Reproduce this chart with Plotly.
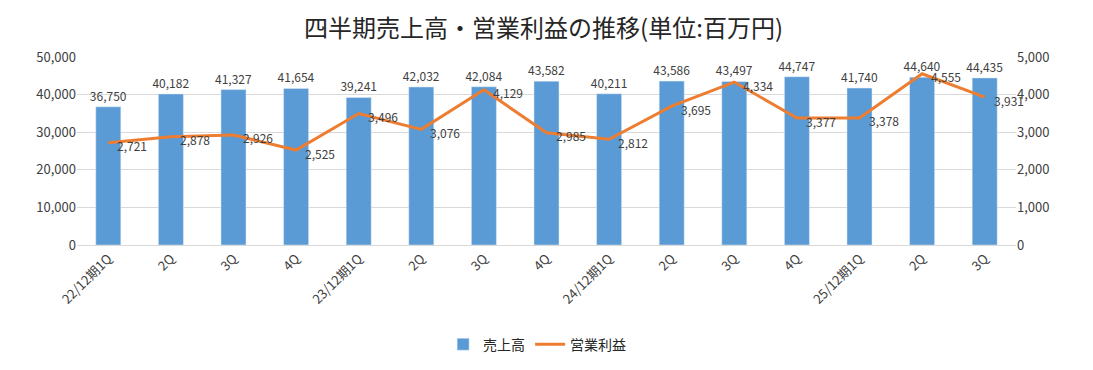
import plotly.graph_objects as go

categories = ["22/12期1Q", "2Q", "3Q", "4Q", "23/12期1Q", "2Q", "3Q", "4Q",
              "24/12期1Q", "2Q", "3Q", "4Q", "25/12期1Q", "2Q", "3Q"]
sales = [36750, 40182, 41327, 41654, 39241, 42032, 42084, 43582,
         40211, 43586, 43497, 44747, 41740, 44640, 44435]
op_profit = [2721, 2878, 2926, 2525, 3496, 3076, 4129, 2985,
             2812, 3695, 4334, 3377, 3378, 4555, 3931]

x = list(range(len(categories)))
FONT = "Noto Sans CJK JP"

fig = go.Figure()
fig.add_trace(go.Bar(
    x=x, y=sales, name="売上高", marker=dict(color="#5B9BD5"),
    text=[f"{v:,}" for v in sales], textposition="outside", cliponaxis=False,
    constraintext="none", textangle=0,
    textfont=dict(family=FONT, size=12, color="#404040"),
))
fig.add_trace(go.Scatter(
    x=x, y=op_profit, name="営業利益", yaxis="y2", mode="lines",
    line=dict(color="#ED7D31", width=3), cliponaxis=False,
))

for xi, v in zip(x, op_profit):
    fig.add_annotation(x=xi, y=v, xref="x", yref="y2", text=f"{v:,}",
                       showarrow=False, xanchor="left", yanchor="middle",
                       xshift=7, yshift=-3,
                       font=dict(family=FONT, size=12, color="#404040"))

fig.update_layout(
    width=1093, height=370,
    margin=dict(l=69, r=85, t=49, b=133),
    paper_bgcolor="white", plot_bgcolor="white",
    font=dict(family=FONT, size=12, color="#595959"),
    title=dict(text="四半期売上高・営業利益の推移(単位:百万円)", x=0.49, xanchor="center",
               y=0.945, yanchor="middle", font=dict(family=FONT, size=24, color="#262626")),
    bargap=0.6,
    showlegend=True,
    legend=dict(orientation="h", x=0.49, xanchor="center", y=-0.53, yanchor="middle",
                font=dict(family=FONT, size=14, color="#262626")),
    xaxis=dict(tickmode="array", tickvals=x, ticktext=categories, tickangle=-45,
               range=[-0.5, len(categories) - 0.5], showline=True, linecolor="#D9D9D9",
               showgrid=False, ticks="", tickfont=dict(family=FONT, size=13, color="#404040")),
    yaxis=dict(range=[0, 50000], dtick=10000, tickformat=",", gridcolor="#D9D9D9",
               zeroline=False, ticks="", tickfont=dict(family=FONT, size=13, color="#404040")),
    yaxis2=dict(range=[0, 5000], dtick=1000, tickformat=",", overlaying="y", side="right",
                showgrid=False, zeroline=False, ticks="",
                tickfont=dict(family=FONT, size=13, color="#404040")),
)

fig.write_html("out.html")
